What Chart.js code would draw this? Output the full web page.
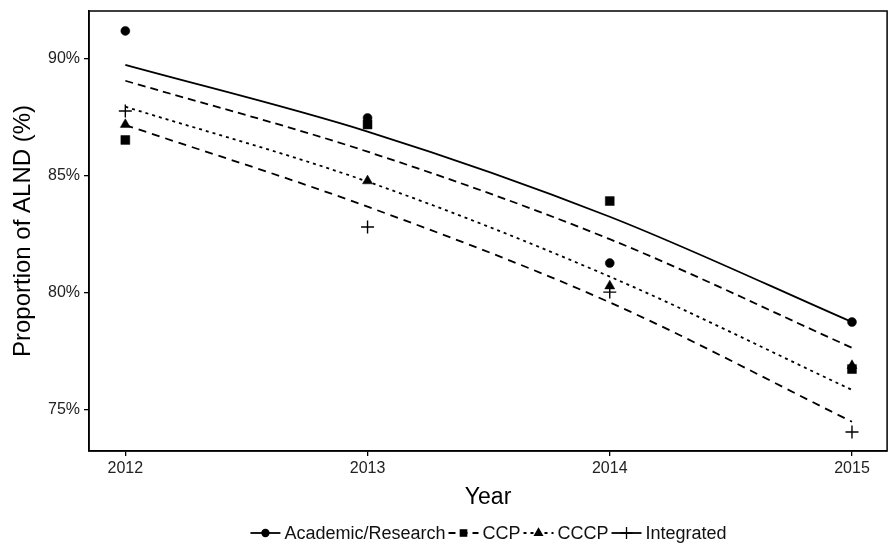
<!DOCTYPE html>
<html>
<head>
<meta charset="utf-8">
<script src="https://cdn.jsdelivr.net/npm/chart.js@4"></script>
<style>
  html, body { margin: 0; padding: 0; background: #fff; }
</style>
</head>
<body>
<canvas id="chart" width="895" height="545"></canvas>
<script>
// observed proportions (%)
const years = [2012, 2013, 2014, 2015];
const academic = [91.2, 87.48, 81.28, 78.76];
const ccp = [86.54, 87.2, 83.93, 76.75];
const cccp = [87.2, 84.79, 80.3, 76.9];
const integrated = [87.78, 82.82, 80.04, 74.06];

// fitted trend lines (%)
const academicFit = [89.75, 86.9, 83.26, 78.76];
const ccpFit = [89.07, 86.04, 82.3, 77.66];
const cccpFit = [87.96, 84.76, 80.7, 75.86];
const integratedFit = [87.18, 83.69, 79.6, 74.5];

const yTicks = [75, 80, 85, 90];
const seriesNames = ["Academic/Research", "CCP", "CCCP", "Integrated"];

const FONT = "'Liberation Sans', Arial, sans-serif";
const pointStyles = ["circle", "rect", "triangle", "cross"];
const pointSizes = [4.5, 6.3, 5.8, 6.5];
const dashes = [[], [8, 5], [3, 4], [8, 6]];

function pts(vals) {
  return vals.map((v, i) => ({ x: years[i], y: v }));
}

const observed = [academic, ccp, cccp, integrated];
const fits = [academicFit, ccpFit, cccpFit, integratedFit];

const datasets = [];
fits.forEach((f, i) => {
  datasets.push({
    label: seriesNames[i] + " fit",
    data: pts(f),
    showLine: true,
    borderColor: "#000",
    borderWidth: 1.8,
    borderDash: dashes[i],
    pointRadius: 0,
    cubicInterpolationMode: "monotone",
    fill: false
  });
});
observed.forEach((o, i) => {
  datasets.push({
    label: seriesNames[i],
    data: pts(o),
    showLine: false,
    pointStyle: pointStyles[i],
    pointRadius: pointSizes[i],
    pointBackgroundColor: "#000",
    pointBorderColor: "#000",
    pointBorderWidth: i === 3 ? 1.4 : 0.5
  });
});

// panel frame + legend at the bottom
const framePlugin = {
  id: "frame",
  afterDraw(chart) {
    const ctx = chart.ctx;
    const a = chart.chartArea;
    ctx.save();
    ctx.strokeStyle = "#000";
    ctx.lineWidth = 1.5;
    ctx.strokeRect(a.left, a.top, a.right - a.left, a.bottom - a.top);

    // legend
    ctx.font = "18px " + FONT;
    ctx.textBaseline = "middle";
    const keyW = 30, gapAfterKey = 4, gapAfterText = 3;
    let total = 0;
    const widths = seriesNames.map(n => ctx.measureText(n).width);
    widths.forEach(w => total += keyW + gapAfterKey + w + gapAfterText);
    let x = 490 - total / 2;
    const y = 533;
    seriesNames.forEach((n, i) => {
      ctx.strokeStyle = "#000";
      ctx.fillStyle = "#000";
      ctx.lineWidth = 1.8;
      ctx.setLineDash(i === 2 ? [3, 4] : (i === 1 ? [7, 5] : []));
      ctx.beginPath();
      ctx.moveTo(x, y);
      ctx.lineTo(x + keyW, y);
      ctx.stroke();
      ctx.setLineDash([]);
      ctx.lineWidth = 1.3;
      Chart.helpers.drawPoint(ctx, {
        pointStyle: pointStyles[i],
        radius: [3.5, 4.5, 4.5, 6][i],
        borderWidth: 1.3
      }, x + keyW / 2, y);
      x += keyW + gapAfterKey;
      ctx.fillStyle = "#111";
      ctx.fillText(n, x, y + 1);
      x += widths[i] + gapAfterText;
    });
    ctx.restore();
  }
};

new Chart(document.getElementById("chart"), {
  type: "scatter",
  data: { datasets: datasets },
  options: {
    responsive: false,
    animation: false,
    devicePixelRatio: 1,
    layout: { padding: { left: 0, right: -2, top: 11, bottom: 32 } },
    plugins: {
      legend: { display: false },
      tooltip: { enabled: false }
    },
    scales: {
      x: {
        type: "linear",
        min: 2011.85,
        max: 2015.145,
        afterBuildTicks: s => { s.ticks = years.map(v => ({ value: v })); },
        afterFit: s => { s.height = 62; s.paddingLeft = 0; s.paddingRight = 0; },
        grid: { drawOnChartArea: false, drawTicks: true, tickLength: 5, color: "#000", lineWidth: 1.3 },
        border: { display: true, color: "#000", width: 1.5 },
        ticks: {
          color: "#222",
          font: { family: FONT, size: 16 },
          padding: 3,
          maxRotation: 0,
          callback: v => String(v)
        },
        title: {
          display: true,
          text: "Year",
          color: "#000",
          font: { family: FONT, size: 23 },
          padding: { top: 0, bottom: 2 }
        }
      },
      y: {
        min: 73.25,
        max: 92.05,
        afterBuildTicks: s => { s.ticks = yTicks.map(v => ({ value: v })); },
        afterFit: s => { s.width = 89; s.paddingTop = 0; s.paddingBottom = 0; },
        grid: { drawOnChartArea: false, drawTicks: true, tickLength: 5, color: "#000", lineWidth: 1.3 },
        border: { display: true, color: "#000", width: 1.5 },
        ticks: {
          color: "#222",
          font: { family: FONT, size: 16 },
          padding: 4,
          callback: v => v + "%"
        },
        title: {
          display: true,
          text: "Proportion of ALND (%)",
          color: "#000",
          font: { family: FONT, size: 24 },
          padding: { top: 9, bottom: 4 }
        }
      }
    }
  },
  plugins: [framePlugin]
});
</script>
</body>
</html>
